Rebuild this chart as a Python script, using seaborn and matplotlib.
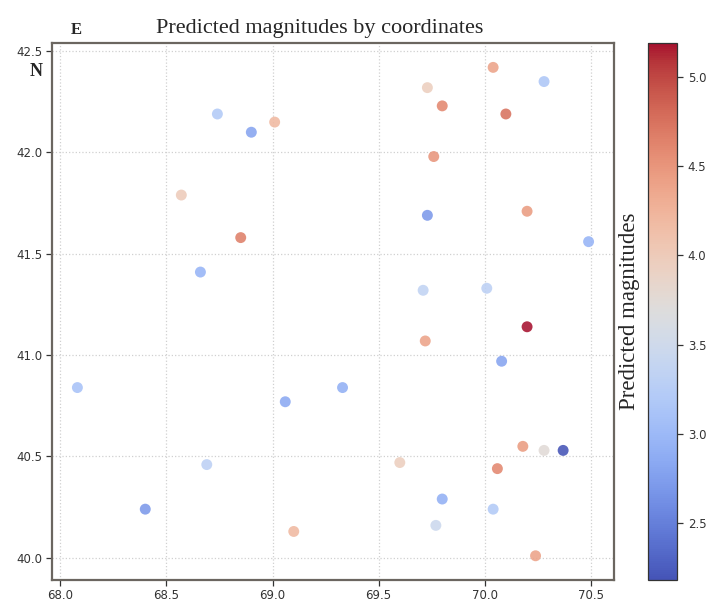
import numpy as np
import pandas as pd
import matplotlib
matplotlib.use('Agg')
import matplotlib.pyplot as plt
from matplotlib.colors import ListedColormap
import seaborn as sns

# ============================================================================
# Data: longitude, latitude and predicted magnitude of each point
# ============================================================================
lon = [68.74, 68.90, 69.01, 68.57, 68.85, 68.66,
       70.04, 70.28, 69.73, 69.80, 70.10, 69.76, 69.73, 70.20,
       69.71, 70.01, 70.20, 70.49,
       68.08, 69.06, 68.69, 68.40, 69.10,
       69.72, 70.08, 69.33, 70.18, 70.28, 70.37, 69.60, 70.06,
       69.80, 70.04, 69.77, 70.24]
lat = [42.19, 42.10, 42.15, 41.79, 41.58, 41.41,
       42.42, 42.35, 42.32, 42.23, 42.19, 41.98, 41.69, 41.71,
       41.32, 41.33, 41.14, 41.56,
       40.84, 40.77, 40.46, 40.24, 40.13,
       41.07, 40.97, 40.84, 40.55, 40.53, 40.53, 40.47, 40.44,
       40.29, 40.24, 40.16, 40.01]
mag = [3.20, 2.80, 4.20, 4.00, 4.65, 2.95,
       4.40, 3.15, 3.95, 4.60, 4.75, 4.50, 2.70, 4.45,
       3.35, 3.30, 5.19, 2.95,
       3.10, 2.85, 3.30, 2.70, 4.20,
       4.40, 2.80, 2.90, 4.45, 3.75, 2.18, 3.95, 4.60,
       2.90, 3.20, 3.45, 4.40]

VMIN, VMAX = 2.18, 5.19

df = pd.DataFrame({'lon': lon, 'lat': lat, 'mag': mag})

# slightly washed-out coolwarm, like the printed figure
cmap = ListedColormap(sns.color_palette('coolwarm', 256, desat=0.85))

# ============================================================================
# Plot
# ============================================================================
sns.set_style('white')

fig = plt.figure(figsize=(7.1, 6.05), dpi=100)
ax = fig.add_axes([0.073, 0.041, 0.792, 0.888])
cax = fig.add_axes([0.913, 0.041, 0.041, 0.888])

sns.scatterplot(data=df, x='lon', y='lat', hue='mag', palette=cmap,
                hue_norm=(VMIN, VMAX), s=62, alpha=0.88, linewidth=0,
                legend=False, ax=ax)

ax.set_xticks([68.0, 68.5, 69.0, 69.5, 70.0, 70.5])
ax.set_yticks([40.0, 40.5, 41.0, 41.5, 42.0, 42.5])
ax.grid(True, linestyle=':', color='#d0d0d0', linewidth=0.9)
ax.set_xlabel('')
ax.set_ylabel('')
ax.tick_params(axis='both', labelsize=8.5, colors='#333333', length=4,
               width=0.9, direction='out', left=True, bottom=True, pad=2.5)
for sp in ax.spines.values():
    sp.set_color('#6b6660')
    sp.set_linewidth(1.6)

ax.set_title('Predicted magnitudes by coordinates', family='Liberation Serif',
             fontsize=16, x=0.477, pad=7)

# Colorbar
sm = plt.cm.ScalarMappable(cmap=cmap, norm=plt.Normalize(VMIN, VMAX))
cbar = fig.colorbar(sm, cax=cax)
cbar.set_ticks([2.5, 3.0, 3.5, 4.0, 4.5, 5.0])
cbar.ax.tick_params(labelsize=8.5, colors='#333333', length=4, width=0.9)
cbar.outline.set_edgecolor('#333333')
cbar.outline.set_linewidth(0.9)
cbar.ax.yaxis.set_label_position('left')
cbar.set_label('Predicted magnitudes', family='Liberation Serif',
               fontsize=16.5, labelpad=6)

# Direction letters
fig.text(0.108, 0.950, 'E', family='Liberation Serif', fontweight='bold',
         fontsize=12, ha='center', va='center')
fig.text(0.051, 0.881, 'N', family='Liberation Serif', fontweight='bold',
         fontsize=13, ha='center', va='center')

plt.savefig('out.png', dpi=100)
